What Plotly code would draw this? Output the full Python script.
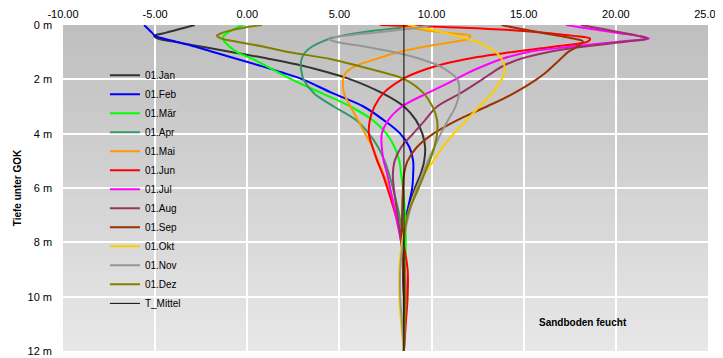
import plotly.graph_objects as go

# Depth grid (m) shared by all monthly profiles
depth = [0, 0.1, 0.2, 0.3, 0.4, 0.5, 0.6, 0.8, 1.0, 1.25, 1.5, 1.75, 2.0, 2.5,
         3.0, 3.5, 4.0, 4.5, 5.0, 5.5, 6.0, 7.0, 8.0, 9.0, 10.0, 11.0, 12.0]

jan = [-2.85, -3.4, -3.95, -4.5, -5.05, -4.85, -4.1, -2.45, -0.8, 1.2, 3.0, 4.4, 5.6, 7.3,
       8.5, 9.15, 9.5, 9.65, 9.6, 9.4, 9.1, 8.65, 8.5, 8.45, 8.5, 8.5, 8.5]
feb = [-5.6, -5.45, -5.3, -5.15, -5.0, -4.55, -3.95, -2.8, -1.8, -0.55, 0.7, 1.9, 3.0, 4.6,
       6.3, 7.4, 8.3, 8.8, 9.0, 9.0, 8.95, 8.65, 8.5, 8.45, 8.5, 8.5, 8.5]
maer = [-0.25, -0.55, -0.85, -1.1, -1.28, -1.32, -1.25, -0.95, -0.55, 0.3, 1.0, 1.7, 2.4, 4.0,
        5.6, 6.8, 7.55, 8.0, 8.25, 8.35, 8.45, 8.55, 8.6, 8.55, 8.5, 8.5, 8.5]
apr = [9.5, 8.3, 7.0, 5.9, 5.1, 4.5, 4.1, 3.5, 3.15, 2.95, 2.9, 2.95, 3.05, 3.6,
       4.7, 5.9, 6.6, 7.1, 7.45, 7.7, 7.9, 8.25, 8.45, 8.5, 8.5, 8.5, 8.5]
mai = [8.0, 8.8, 9.7, 11.0, 12.1, 12.0, 11.4, 9.6, 8.2, 7.0, 5.9, 5.35, 5.2, 5.25,
       5.6, 6.0, 6.4, 6.8, 7.1, 7.4, 7.7, 8.1, 8.35, 8.5, 8.55, 8.5, 8.5]
jun = [7.2, 11.7, 14.6, 16.4, 17.7, 18.6, 18.5, 16.6, 14.3, 11.9, 10.3, 9.2, 8.4, 7.4,
       6.9, 6.65, 6.6, 6.8, 7.05, 7.35, 7.6, 8.05, 8.45, 8.7, 8.7, 8.6, 8.5]
jul = [17.3, 18.2, 19.2, 20.2, 21.2, 21.8, 20.4, 17.5, 15.2, 13.8, 12.85, 12.0, 11.3, 9.8,
       8.4, 7.65, 7.3, 7.3, 7.4, 7.6, 7.75, 8.05, 8.35, 8.55, 8.6, 8.55, 8.5]
aug = [18.1, 18.9, 19.7, 20.5, 21.2, 21.7, 20.7, 18.2, 16.3, 14.8, 13.9, 13.3, 12.75, 11.6,
       10.3, 9.65, 9.0, 8.35, 8.0, 7.9, 7.95, 8.15, 8.35, 8.5, 8.55, 8.5, 8.5]
sep = [13.8, 14.5, 15.3, 16.1, 16.9, 17.7, 18.2, 17.9, 17.4, 17.0, 16.6, 16.2, 15.7, 14.5,
       13.0, 11.4, 10.1, 9.2, 8.7, 8.5, 8.45, 8.4, 8.4, 8.45, 8.5, 8.5, 8.5]
okt = [8.7, 9.5, 10.2, 10.8, 11.3, 11.9, 12.4, 13.0, 13.5, 13.8, 13.95, 13.95, 13.8, 13.3,
       12.6, 11.9, 11.2, 10.6, 10.1, 9.6, 9.2, 8.7, 8.4, 8.25, 8.25, 8.35, 8.5]
nov = [10.0, 9.2, 8.0, 6.6, 5.3, 4.4, 4.7, 6.4, 8.0, 9.4, 10.4, 11.0, 11.4, 11.5,
       11.3, 10.9, 10.5, 10.15, 9.8, 9.5, 9.2, 8.75, 8.45, 8.3, 8.3, 8.4, 8.5]
dez = [0.8, -0.2, -0.9, -1.4, -1.65, -1.4, -0.7, 0.9, 2.3, 4.5, 6.0, 7.4, 8.55, 9.55,
       10.05, 10.3, 10.3, 10.15, 9.9, 9.6, 9.3, 8.7, 8.5, 8.55, 8.6, 8.55, 8.5]

t_mittel_depth = [0, 12]
t_mittel = [8.5, 8.5]

series_names = ["01.Jan", "01.Feb", "01.Mär", "01.Apr", "01.Mai", "01.Jun",
                "01.Jul", "01.Aug", "01.Sep", "01.Okt", "01.Nov", "01.Dez"]
series_values = [jan, feb, maer, apr, mai, jun, jul, aug, sep, okt, nov, dez]
series_colors = ["#333333", "#0000FF", "#00FF00", "#339966", "#FF9900", "#FF0000",
                 "#FF00FF", "#993366", "#993300", "#FFCC00", "#969696", "#808000"]

x_ticks = [-10, -5, 0, 5, 10, 15, 20, 25]
y_ticks = [0, 2, 4, 6, 8, 10, 12]
y_ticktext = [f"{v} m" for v in y_ticks]

FONT = "Liberation Sans, Arial, sans-serif"

fig = go.Figure()
for name, vals, col in zip(series_names, series_values, series_colors):
    fig.add_trace(go.Scatter(x=vals, y=depth, name=name, mode="lines",
                             line=dict(color=col, width=2, shape="spline", smoothing=1.0)))
fig.add_trace(go.Scatter(x=t_mittel, y=t_mittel_depth, name="T_Mittel", mode="lines",
                         line=dict(color="#000000", width=1)))

# vertical grey gradient background of the plot area
shapes = []
N = 60
for i in range(N):
    g = int(round(191 + (231 - 191) * i / (N - 1)))
    top = 1 - i / N
    bot = 1 - (i + 1) / N - 0.002
    shapes.append(dict(type="rect", xref="x domain", yref="y domain",
                       x0=0, x1=1, y0=max(bot, 0), y1=top, layer="below",
                       line=dict(width=0), fillcolor=f"rgb({g},{g},{g})"))

# the page body adds an 8px margin; figure is offset by 8px
fig.update_layout(
    width=723, height=350,
    margin=dict(l=55, r=23, t=17, b=7, autoexpand=False),
    paper_bgcolor="white", plot_bgcolor="#c0c0c0",
    font=dict(family=FONT, size=11, color="#000000"),
    shapes=shapes,
    showlegend=True,
    legend=dict(x=0.065, y=0.89, xanchor="left", yanchor="top",
                bgcolor="rgba(0,0,0,0)", font=dict(size=10, family=FONT),
                itemwidth=30, tracegroupgap=0),
    annotations=[dict(text="<b>Sandboden feucht</b>", x=0.806, y=0.086,
                      xref="paper", yref="paper", xanchor="center", yanchor="middle",
                      showarrow=False, font=dict(size=10, family=FONT))],
)
fig.update_xaxes(side="top", range=[-10, 25], tickvals=x_ticks,
                 ticktext=[f"{v:.2f}" for v in x_ticks], automargin=False,
                 showgrid=True, gridcolor="white", gridwidth=1.5,
                 zeroline=False, showline=False, ticks="", ticklabelstandoff=4)
fig.update_yaxes(range=[12, 0], tickvals=y_ticks, ticktext=y_ticktext, automargin=False,
                 showgrid=True, gridcolor="white", gridwidth=1.5,
                 zeroline=False, showline=True, linecolor="white", linewidth=1.5,
                 ticks="", ticklabelstandoff=7,
                 title=dict(text="<b>Tiefe unter GOK</b>", font=dict(size=10, family=FONT),
                            standoff=4))

fig.write_html("out.html")
